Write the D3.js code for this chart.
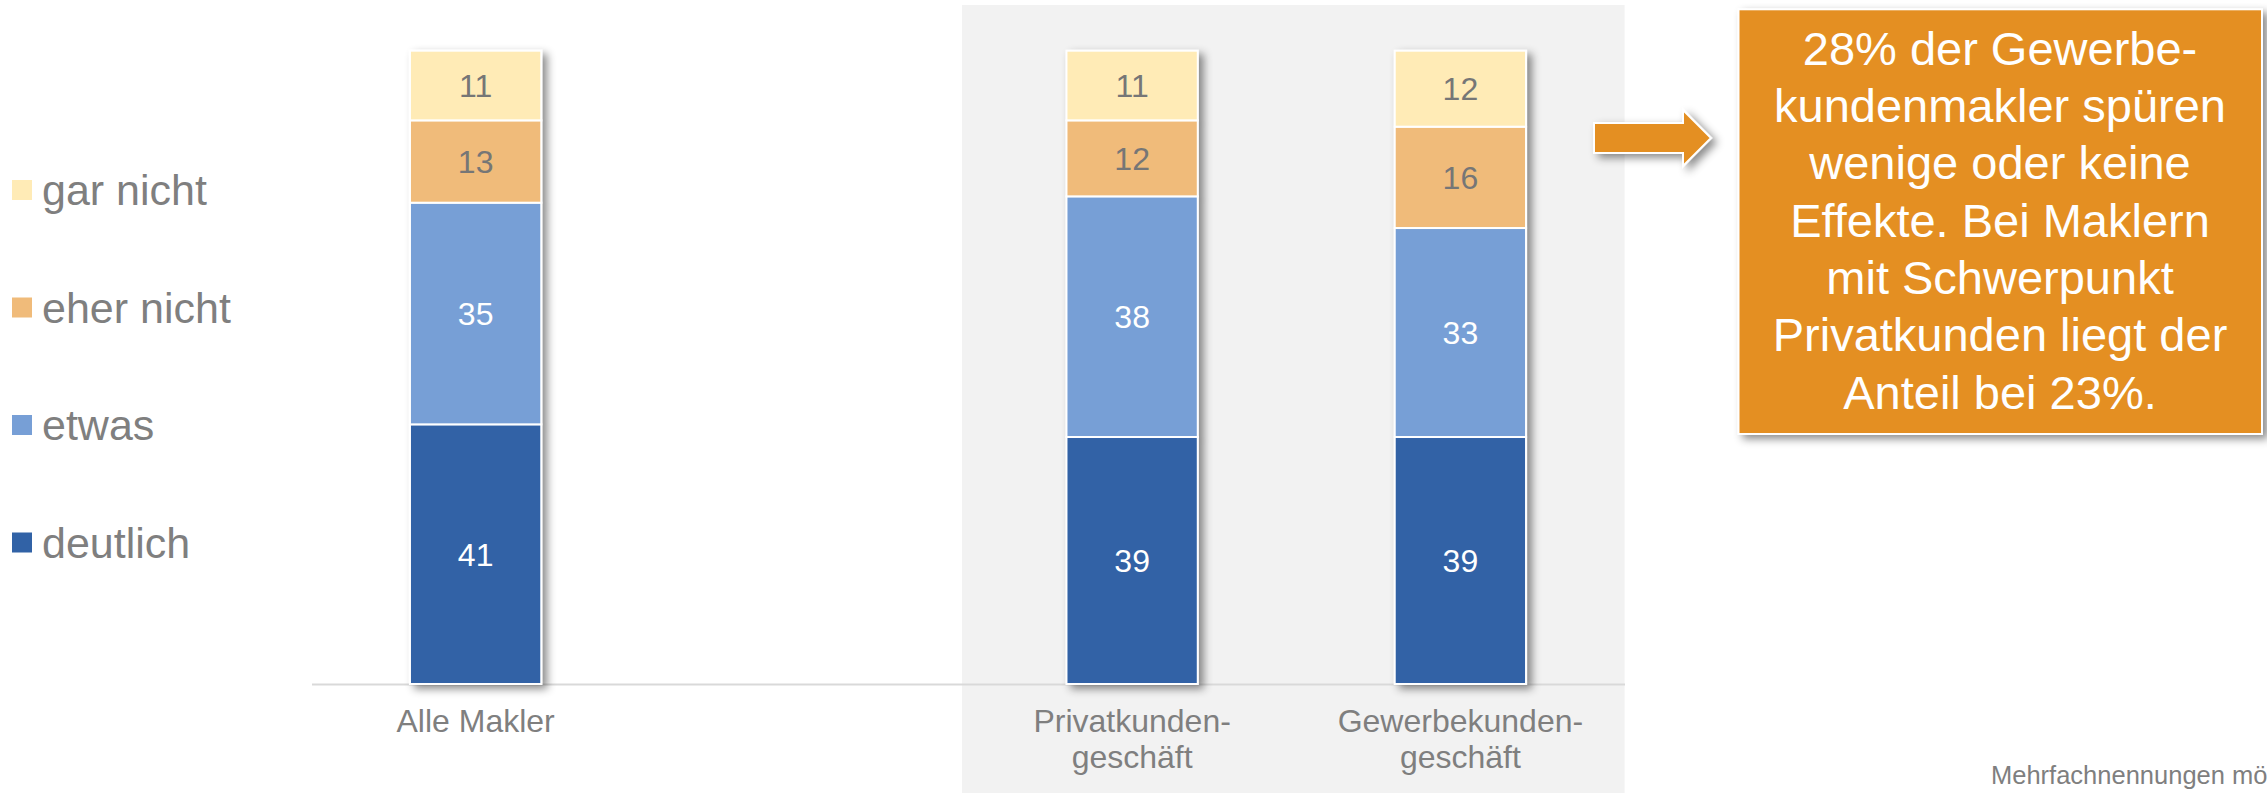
<!DOCTYPE html>
<html>
<head>
<meta charset="utf-8">
<script src="https://cdn.jsdelivr.net/npm/d3@7/dist/d3.min.js"></script>
<style>
  html, body { margin: 0; padding: 0; background: #ffffff; }
  svg { display: block; font-family: "Liberation Sans", Arial, sans-serif; }
</style>
</head>
<body>
<svg id="chart" width="2267" height="793"></svg>
<script>
// ---- data ----
const categories = ["Alle Makler", "", "Privatkunden-geschäft", "Gewerbekunden-geschäft"];
const categoryLabels = [["Alle Makler"], [], ["Privatkunden-", "geschäft"], ["Gewerbekunden-", "geschäft"]];
const seriesNames = ["deutlich", "etwas", "eher nicht", "gar nicht"];
const deutlich  = [41, null, 39, 39];
const etwas     = [35, null, 38, 33];
const eherNicht = [13, null, 12, 16];
const garNicht  = [11, null, 11, 12];
const seriesColors = ["#3162a6", "#779fd6", "#f0bb7a", "#ffebb6"];
const labelColors = ["#ffffff", "#ffffff", "#767676", "#767676"];
const calloutLines = [
  "28% der Gewerbe-",
  "kundenmakler spüren",
  "wenige oder keine",
  "Effekte. Bei Maklern",
  "mit Schwerpunkt",
  "Privatkunden liegt der",
  "Anteil bei 23%."
];
const footnote = "Mehrfachnennungen möglich";

// ---- build table ----
const seriesValues = [deutlich, etwas, eherNicht, garNicht];
const table = categories.map((c, i) => {
  const row = { cat: c, idx: i };
  seriesNames.forEach((s, k) => row[s] = seriesValues[k][i] || 0);
  return row;
});
const stacked = d3.stack().keys(seriesNames)(table);

const svg = d3.select("#chart");
const defs = svg.append("defs");
const sh = defs.append("filter").attr("id", "shadow")
  .attr("x", "-20%").attr("y", "-20%").attr("width", "150%").attr("height", "150%");
sh.append("feDropShadow").attr("dx", 5).attr("dy", 4).attr("stdDeviation", 4)
  .attr("flood-color", "#000").attr("flood-opacity", 0.45);

// ---- scales ----
const x = d3.scaleBand().domain(categories).range([311.5, 1624.5])
  .paddingInner(0.6).paddingOuter(0.3);
const y = d3.scaleLinear().domain([0, 100]).range([684, 50.7]);

// gray background panel for the two sub groups
svg.append("rect")
  .attr("x", x(categories[2]) - 104.5)
  .attr("y", 5)
  .attr("width", 1624.6 - (x(categories[2]) - 104.5))
  .attr("height", 793 - 5)
  .attr("fill", "#f2f2f2");

// ---- axis ----
const axis = d3.axisBottom(x).tickSize(0).tickSizeOuter(0).tickFormat("");
const gAxis = svg.append("g").attr("transform", `translate(0,${y(0)})`).call(axis);
gAxis.select(".domain").attr("stroke", "#d9d9d9").attr("stroke-width", 2);
gAxis.selectAll(".tick").each(function(d, i) {
  const lines = categoryLabels[i];
  const t = d3.select(this).select("text")
    .attr("y", 0).attr("dy", null)
    .attr("fill", "#7f7f7f").attr("font-size", 32).attr("text-anchor", "middle");
  lines.forEach((ln, j) => {
    t.append("tspan").attr("x", 0).attr("y", 48 + j * 36).text(ln);
  });
});

// ---- bars ----
const barsG = svg.append("g");
const realIdx = categories.map((c, i) => i).filter(i => deutlich[i] != null);
realIdx.forEach(i => {
  const g = barsG.append("g").attr("filter", "url(#shadow)");
  stacked.forEach((layer, k) => {
    const d = layer[i];
    g.append("rect")
      .attr("x", x(categories[i]))
      .attr("y", y(d[1]))
      .attr("width", x.bandwidth())
      .attr("height", y(d[0]) - y(d[1]))
      .attr("fill", seriesColors[k])
      .attr("stroke", "#ffffff")
      .attr("stroke-width", 2);
  });
});
realIdx.forEach(i => {
  stacked.forEach((layer, k) => {
    const d = layer[i];
    svg.append("text")
      .attr("x", x(categories[i]) + x.bandwidth() / 2)
      .attr("y", (y(d[0]) + y(d[1])) / 2)
      .attr("dy", "0.36em")
      .attr("text-anchor", "middle")
      .attr("font-size", 32)
      .attr("fill", labelColors[k])
      .text(seriesValues[k][i]);
  });
});

// ---- legend ----
const legendOrder = [3, 2, 1, 0];
legendOrder.forEach((k, j) => {
  const cy = 190 + j * 117.5;
  svg.append("rect").attr("x", 12).attr("y", cy - 10).attr("width", 20).attr("height", 20)
    .attr("fill", seriesColors[k]);
  svg.append("text").attr("x", 42).attr("y", cy).attr("dy", "0.35em")
    .attr("font-size", 43).attr("fill", "#7f7f7f").text(seriesNames[k]);
});

// ---- arrow ----
const arrowPts = [[1594, 123], [1683, 123], [1683, 110], [1711, 138], [1683, 166], [1683, 153], [1594, 153]];
svg.append("polygon")
  .attr("points", arrowPts.map(p => p.join(",")).join(" "))
  .attr("fill", "#e48f22").attr("stroke", "#ffffff").attr("stroke-width", 2)
  .attr("filter", "url(#shadow)");

// ---- callout ----
svg.append("rect")
  .attr("x", 1738.5).attr("y", 9.3).attr("width", 523.5).attr("height", 424.7)
  .attr("fill", "#e48f22").attr("stroke", "#ffffff").attr("stroke-width", 2)
  .attr("filter", "url(#shadow)");
const ct = svg.append("text").attr("text-anchor", "middle").attr("fill", "#ffffff").attr("font-size", 47);
calloutLines.forEach((ln, j) => {
  ct.append("tspan").attr("x", 2000).attr("y", 64.7 + j * 57.33).text(ln);
});

// ---- footnote ----
svg.append("text").attr("x", 1991).attr("y", 784).attr("font-size", 25.5)
  .attr("fill", "#7f7f7f").text(footnote);
</script>
</body>
</html>
